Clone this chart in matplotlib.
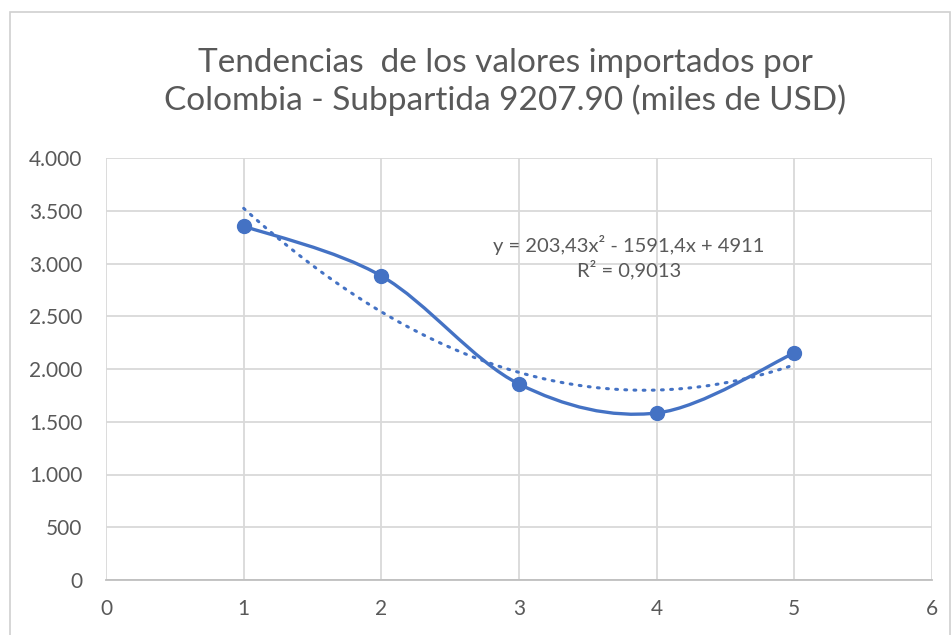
import numpy as np
import matplotlib
matplotlib.use("Agg")
import matplotlib.pyplot as plt
from matplotlib.path import Path
from matplotlib.patches import PathPatch, Rectangle

plt.rcParams['font.family'] = ['Lato', 'DejaVu Sans']

x_vals = [1, 2, 3, 4, 5]
y_vals = [3355, 2882, 1858, 1583, 2152]
trend_coefs = [203.43, -1591.4, 4911]
title = "Tendencias  de los valores importados por\nColombia - Subpartida 9207.90 (miles de USD)"
eq_text = "y = 203,43x² - 1591,4x + 4911\nR² = 0,9013"
y_ticks = [0, 500, 1000, 1500, 2000, 2500, 3000, 3500, 4000]
x_ticks = [0, 1, 2, 3, 4, 5, 6]

blue = "#4472C4"
gray_txt = "#595959"
grid_c = "#D9D9D9"

fig = plt.figure(figsize=(9.53, 6.35), dpi=100)
# chart border
fig.patches.append(Rectangle((10/953, -0.01), 940/953, 1 - 12/635 + 0.01, transform=fig.transFigure,
                             fill=False, edgecolor="#D0D0D0", linewidth=1.2))
ax = fig.add_axes([106/953, 1 - 580/635, (932 - 106)/953, (580 - 158)/635])

ax.set_xlim(0, 6)
ax.set_ylim(0, 4000)
ax.set_xticks(x_ticks)
ax.set_yticks(y_ticks)
ax.set_yticklabels([f"{v:,}".replace(",", ".") for v in y_ticks])
ax.grid(True, color=grid_c, linewidth=1.3)
ax.set_axisbelow(True)
for s in ["top", "right", "left"]:
    ax.spines[s].set_visible(False)
ax.spines["bottom"].set_color("#BFBFBF")
ax.spines["bottom"].set_linewidth(1.3)
ax.tick_params(length=0, labelsize=15, colors=gray_txt)
ax.tick_params(axis='y', pad=17)
ax.tick_params(axis='x', pad=14)

# smoothed line (Excel-like Bezier)
P = np.column_stack([x_vals, y_vals]).astype(float)
n = len(P)
verts = [tuple(P[0])]
codes = [Path.MOVETO]
for i in range(n - 1):
    p0 = P[i - 1] if i > 0 else P[i]
    p1 = P[i]
    p2 = P[i + 1]
    p3 = P[i + 2] if i + 2 < n else P[i + 1]
    c1 = p1 + (p2 - p0) / 6
    c2 = p2 - (p3 - p1) / 6
    verts += [tuple(c1), tuple(c2), tuple(p2)]
    codes += [Path.CURVE4] * 3
ax.add_patch(PathPatch(Path(verts, codes), facecolor="none", edgecolor=blue, linewidth=2.4,
                       capstyle="round", zorder=3))
ax.plot(x_vals, y_vals, linestyle="none", marker="o", markersize=10, color=blue, zorder=4)

# trendline
xt = np.linspace(min(x_vals), max(x_vals), 200)
yt = np.polyval(trend_coefs, xt)
ax.plot(xt, yt, color=blue, linewidth=2.2, linestyle=(0, (0.6, 2.4)), dash_capstyle="round", zorder=3)

ax.text(3.80, 3060, eq_text, ha="center", va="center", fontsize=14.5, color=gray_txt, linespacing=1.3)

fig.text(505/953, 1 - 82/635, title, ha="center", va="center", fontsize=24, color=gray_txt,
         linespacing=1.25)

fig.savefig("out.png", dpi=100)
